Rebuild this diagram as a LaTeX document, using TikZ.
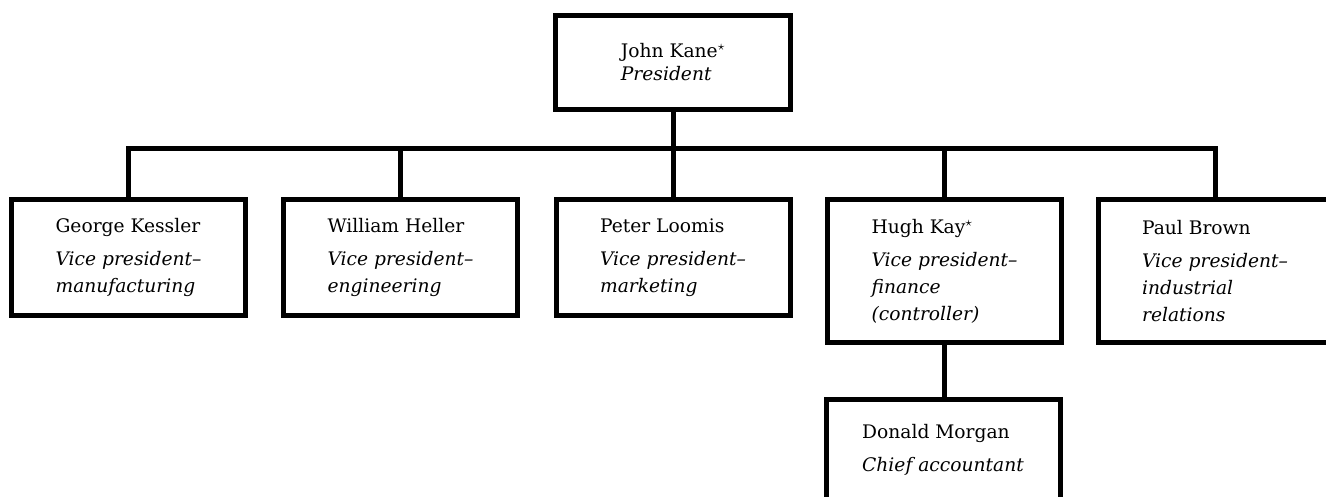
\documentclass[tikz,border=0pt]{standalone}
\usepackage{fontspec}
\setmainfont{DejaVu Serif}
\begin{document}
\begin{tikzpicture}[x=0.75pt,y=-0.75pt,
  box/.style={draw=black,line width=3.75pt,rectangle,align=left,
    minimum width=175.5pt,minimum height=87pt,inner sep=0pt,
    font=\fontsize{14}{20.25}\selectfont},
  tallbox/.style={box,minimum height=107.25pt},
  lowbox/.style={box,minimum height=75pt},
  topbox/.style={box,minimum width=176.25pt,minimum height=70.5pt},
  conn/.style={draw=black,line width=3.75pt,line join=miter,line cap=butt}]
\clip (0,0) rectangle (1326,496);
\fill[white] (0,0) rectangle (1326,496);
\node[topbox] (top) at (673,62.5) {John Kane$^\star$\\[-3pt]\textit{President}};
\node[box] (george) at (128.5,257.5) {George Kessler\\[4.5pt]\textit{Vice president--}\\\textit{manufacturing}};
\node[box] (william) at (400.5,257.5) {William Heller\\[4.5pt]\textit{Vice president--}\\\textit{engineering}};
\node[box] (peter) at (673,257.5) {Peter Loomis\\[4.5pt]\textit{Vice president--}\\\textit{marketing}};
\node[tallbox] (hugh) at (944.5,271) {Hugh Kay$^\star$\\[4.5pt]\textit{Vice president--}\\\textit{finance}\\\textit{(controller)}};
\node[tallbox] (paul) at (1215,271) {Paul Brown\\[4.5pt]\textit{Vice president--}\\\textit{industrial}\\\textit{relations}};
\node[lowbox] (donald) at (943,449.5) {Donald Morgan\\[4.5pt]\textit{Chief accountant}};
\coordinate (bus) at (0,148);
\draw[conn] (top.south) -- (top.south |- bus);
\draw[conn] (george.north) -- (george.north |- bus) -- (paul.north |- bus) -- (paul.north);
\draw[conn] (william.north |- bus) -- (william.north);
\draw[conn] (peter.north |- bus) -- (peter.north);
\draw[conn] (hugh.north |- bus) -- (hugh.north);
\draw[conn] (hugh.south) -- (hugh.south |- donald.north);
\end{tikzpicture}
\end{document}
